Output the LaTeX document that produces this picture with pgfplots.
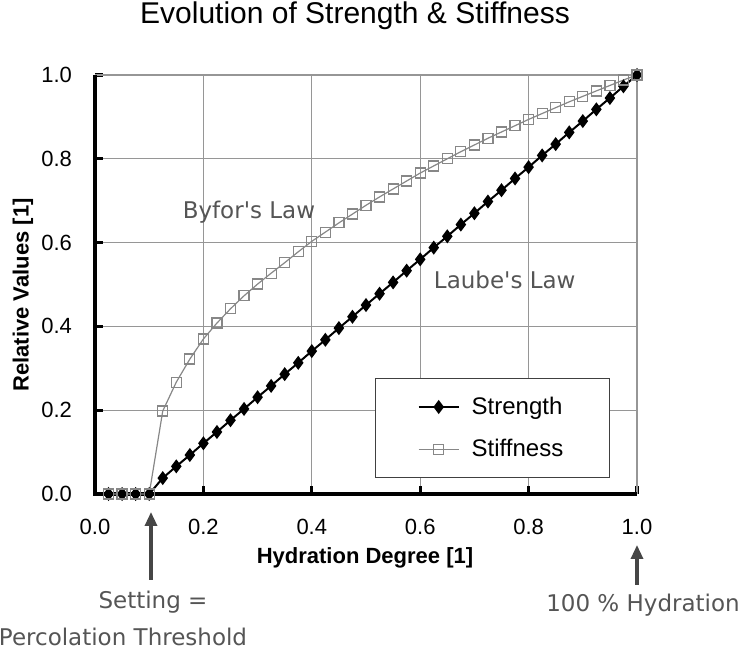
\documentclass[border=0pt]{standalone}
\usepackage{pgfplots}
\pgfplotsset{compat=1.18}
\usepackage{fontspec}
\setmainfont{Liberation Sans}
\newfontfamily\dejavu{DejaVu Sans}
\usetikzlibrary{arrows.meta}
\definecolor{stiffgray}{RGB}{135,135,135}
\definecolor{annogray}{RGB}{85,85,85}
\definecolor{arrowgray}{RGB}{70,70,70}
\definecolor{gridgray}{RGB}{150,150,150}

\pgfplotstableread{
x y
0.025 0
0.050 0
0.075 0
0.100 0
0.125 0.038
0.150 0.066
0.175 0.093
0.200 0.121
0.225 0.148
0.250 0.176
0.275 0.203
0.300 0.231
0.325 0.258
0.350 0.286
0.375 0.313
0.400 0.341
0.425 0.368
0.450 0.396
0.475 0.423
0.500 0.451
0.525 0.478
0.550 0.505
0.575 0.533
0.600 0.560
0.625 0.588
0.650 0.615
0.675 0.643
0.700 0.670
0.725 0.698
0.750 0.725
0.775 0.753
0.800 0.780
0.825 0.808
0.850 0.835
0.875 0.863
0.900 0.890
0.925 0.918
0.950 0.945
0.975 0.973
1.000 1.000
}\strength

\pgfplotstableread{
x y
0.025 0
0.050 0
0.075 0
0.100 0
0.125 0.198
0.150 0.267
0.175 0.322
0.200 0.370
0.225 0.408
0.250 0.442
0.275 0.473
0.300 0.501
0.325 0.527
0.350 0.552
0.375 0.578
0.400 0.603
0.425 0.625
0.450 0.647
0.475 0.668
0.500 0.689
0.525 0.709
0.550 0.728
0.575 0.747
0.600 0.766
0.625 0.783
0.650 0.800
0.675 0.817
0.700 0.833
0.725 0.849
0.750 0.864
0.775 0.879
0.800 0.894
0.825 0.908
0.850 0.922
0.875 0.936
0.900 0.949
0.925 0.962
0.950 0.975
0.975 0.988
1.000 1.000
}\stiffness

\begin{document}
\begin{tikzpicture}
\path[use as bounding box] (-47.5pt,-81pt) rectangle (324.5pt,247pt);
\begin{axis}[
  at={(0,0)}, anchor=south west,
  scale only axis, width=271pt, height=209.5pt,
  xmin=0, xmax=1, ymin=0, ymax=1,
  xtick={0,0.2,...,1.0}, ytick={0,0.2,...,1.0},
  xtick pos=bottom, ytick pos=left,
  tick align=inside,
  major tick length=4pt,
  tick style={black, line width=1.6pt},
  grid=major,
  major grid style={gridgray, line width=0.45pt},
  axis line style={draw=none},
  clip=false,
  /pgf/number format/assume math mode=true,
  /pgf/number format/.cd, fixed, fixed zerofill, precision=1, /pgfplots/.cd,
  ticklabel style={font=\fontsize{11}{13}\selectfont},
  xticklabel style={yshift=-9pt},
  yticklabel style={xshift=-8pt},
  legend style={at={(0.517,0.038)}, anchor=south west,
    draw=black!75, line width=0.5pt, fill=white,
    font=\fontsize{12}{14}\selectfont,
    inner xsep=21pt, inner ysep=7pt, row sep=7pt,
    /tikz/every odd column/.append style={column sep=4pt}},
  legend cell align=left,
  legend image code/.code={
    \draw[mark repeat=2,mark phase=2] plot coordinates {(0pt,0pt) (10pt,0pt) (20pt,0pt)};
  },
]
\draw[gridgray, line width=0.6pt] (rel axis cs:0,1) -- (rel axis cs:1,1) -- (rel axis cs:1,0);
\draw[black, line width=2pt] (rel axis cs:0,1) -- (rel axis cs:0,0) -- (rel axis cs:1,0);
\addplot[black, line width=1pt, mark=diamond*, mark size=2.7pt, mark options={fill=black}] table {\strength};
\addlegendentry{Strength}
\addplot[stiffgray, line width=0.6pt, mark=square, mark size=2.5pt, mark options={stiffgray, line width=0.6pt}] table {\stiffness};
\addlegendentry{Stiffness}
\node[annogray, font=\dejavu\fontsize{11.5}{13}\selectfont] at (axis cs:0.284,0.673) {Byfor's Law};
\node[annogray, font=\dejavu\fontsize{11.5}{13}\selectfont] at (axis cs:0.756,0.51) {Laube's Law};
\end{axis}
\node[font=\fontsize{15}{18}\selectfont] at (130pt,239pt) {Evolution of Strength \& Stiffness};
\node[font=\bfseries\fontsize{11}{13}\selectfont, rotate=90] at (-36pt,99.5pt) {Relative Values [1]};
\node[font=\bfseries\fontsize{11}{13}\selectfont] at (135pt,-32pt) {Hydration Degree [1]};
\draw[arrowgray, line width=1.6pt, -{Triangle[length=7pt,width=6pt]}] (28pt,-43pt) -- (28pt,-9pt);
\draw[arrowgray, line width=1.6pt, -{Triangle[length=7pt,width=6pt]}] (271pt,-45.5pt) -- (271pt,-25.5pt);
\node[annogray, font=\dejavu\fontsize{11.5}{13}\selectfont] at (29pt,-54pt) {Setting =};
\node[annogray, font=\dejavu\fontsize{11.5}{13}\selectfont] at (14pt,-71.5pt) {Percolation Threshold};
\node[annogray, font=\dejavu\fontsize{11.5}{13}\selectfont] at (274pt,-55.5pt) {100 \% Hydration};
\end{tikzpicture}
\end{document}
